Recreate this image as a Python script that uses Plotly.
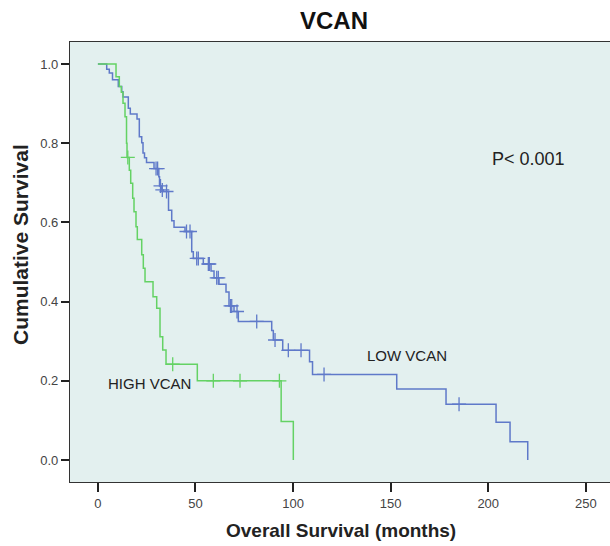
import plotly.graph_objects as go

# ---- data ----
low_times = [4.51, 5.84, 7.48, 10.45, 12.20, 12.86, 15.58, 16.60, 20.04, 21.22, 22.45, 23.11,
             23.88, 24.91, 28.75, 31.21, 31.57, 32.59, 33.51, 36.18, 37.82, 39.0, 44.63,
             48.07, 48.89, 54.01, 57.96, 59.50, 62.06, 65.64, 67.18, 69.74, 71.95, 89.06,
             89.88, 94.70, 108.44, 109.97, 153.12, 178.38, 204.01, 211.18, 220.25]
low_surv = [0.987, 0.977, 0.960, 0.943, 0.930, 0.917, 0.888, 0.874, 0.861, 0.816, 0.801, 0.775,
            0.763, 0.751, 0.736, 0.715, 0.692, 0.682, 0.678, 0.631, 0.604, 0.588, 0.577,
            0.526, 0.509, 0.495, 0.477, 0.460, 0.444, 0.424, 0.389, 0.375, 0.350, 0.327,
            0.303, 0.277, 0.248, 0.216, 0.179, 0.141, 0.095, 0.046, 0.0]
low_censored = [29.8, 30.6, 32.08, 33.0, 35.15, 45.4, 47.2, 50.63, 51.45, 56.58, 57.09, 60.88,
                61.70, 67.95, 68.57, 71.28, 81.38, 90.76, 97.57, 104.08, 115.87, 185.05]

high_times = [9.28, 10.97, 11.99, 12.86, 13.89, 14.66, 14.91, 16.09, 16.81, 17.83, 18.50, 19.52,
              20.19, 22.45, 23.27, 24.14, 28.24, 30.13, 31.82, 33.21, 34.90, 50.94, 93.9, 100.13]
high_surv = [0.968, 0.943, 0.929, 0.901, 0.867, 0.800, 0.764, 0.732, 0.699, 0.661, 0.627, 0.589,
             0.557, 0.518, 0.484, 0.450, 0.412, 0.383, 0.311, 0.278, 0.242, 0.200, 0.097, 0.0]
high_censored = [15.32, 38.33, 59.14, 72.82, 93.0]

x_ticks = [0, 50, 100, 150, 200, 250]
y_ticks = [0.0, 0.2, 0.4, 0.6, 0.8, 1.0]

LOW_COLOR = "#5F79C9"
HIGH_COLOR = "#64D264"


def surv_at(times, surv, t):
    s = 1.0
    for ti, si in zip(times, surv):
        if ti <= t:
            s = si
        else:
            break
    return s


fig = go.Figure()

for times, surv, cens, color in [
    (low_times, low_surv, low_censored, LOW_COLOR),
    (high_times, high_surv, high_censored, HIGH_COLOR),
]:
    fig.add_trace(go.Scatter(
        x=[0] + times, y=[1.0] + surv, mode="lines", line_shape="hv",
        line=dict(color=color, width=1.5), hoverinfo="skip", showlegend=False))
    fig.add_trace(go.Scatter(
        x=cens, y=[surv_at(times, surv, c) for c in cens], mode="markers",
        marker=dict(symbol="cross-thin", size=10, line=dict(color=color, width=1.3)),
        showlegend=False))

font_family = "Liberation Sans, Arial, sans-serif"

fig.update_layout(
    width=610, height=546,
    margin=dict(l=70, r=0, t=42, b=64),
    paper_bgcolor="white",
    plot_bgcolor="#E3F0EF",
    font=dict(family=font_family, color="#333333"),
    title=dict(text="<b>VCAN</b>", x=334 / 610, xanchor="center", y=1 - 21 / 546,
               yanchor="middle", font=dict(size=24, color="#111111", family=font_family)),
    xaxis=dict(range=[-14.3, 262.4], tickvals=x_ticks, ticks="outside", ticklen=9,
               tickwidth=1.6, tickcolor="#222222", showgrid=False, zeroline=False,
               showline=True, linecolor="#333333", linewidth=1.3, mirror=True,
               tickfont=dict(size=13, color="#444444"), fixedrange=True),
    yaxis=dict(range=[-0.0556, 1.0556], tickvals=y_ticks, tickformat=".1f", ticks="outside",
               ticklen=8, tickwidth=1.6, tickcolor="#222222", showgrid=False, zeroline=False,
               showline=True, linecolor="#333333", linewidth=1.3,
               tickfont=dict(size=13, color="#444444"), fixedrange=True),
    annotations=[
        dict(text="P< 0.001", x=220.4, y=0.760, xref="x", yref="y", showarrow=False,
             font=dict(size=18, color="#222222")),
        dict(text="LOW VCAN", x=158.4, y=0.263, xref="x", yref="y", showarrow=False,
             font=dict(size=15, color="#222222")),
        dict(text="HIGH VCAN", x=26.4, y=0.192, xref="x", yref="y", showarrow=False,
             font=dict(size=15, color="#222222")),
        dict(text="<b>Overall Survival (months)</b>", x=(341 - 70) / 540, y=-48 / 440,
             xref="paper", yref="paper", showarrow=False, yanchor="middle",
             font=dict(size=19, color="#222222")),
        dict(text="<b>Cumulative Survival</b>", x=-49 / 540, y=(482 - 245) / 440,
             xref="paper", yref="paper", showarrow=False, textangle=-90, xanchor="center",
             yanchor="middle", font=dict(size=21, color="#222222")),
    ],
)

fig.write_html("out.html")
